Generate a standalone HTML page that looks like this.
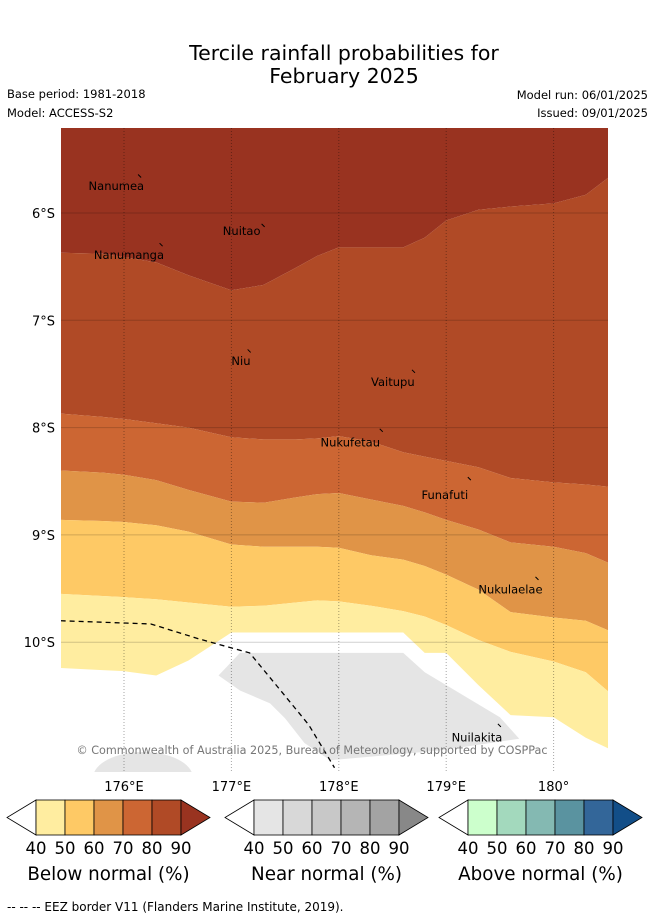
<!DOCTYPE html>
<html><head><meta charset="utf-8">
<style>
body{margin:0;background:#fff;width:655px;height:919px;overflow:hidden;font-family:"DejaVu Sans","Liberation Sans",sans-serif;}
svg text{font-family:"DejaVu Sans","Liberation Sans",sans-serif;}
</style></head>
<body>
<svg id="chart" width="655" height="919" viewBox="0 0 655 919" xmlns="http://www.w3.org/2000/svg">
<text x="344" y="60" font-size="20.5" text-anchor="middle">Tercile rainfall probabilities for</text>
<text x="344" y="83" font-size="20.5" text-anchor="middle">February 2025</text>
<text x="7" y="98" font-size="11.5">Base period: 1981-2018</text>
<text x="7" y="117" font-size="11.5">Model: ACCESS-S2</text>
<text x="648" y="99" font-size="11.5" text-anchor="end">Model run: 06/01/2025</text>
<text x="648" y="117" font-size="11.5" text-anchor="end">Issued: 09/01/2025</text>
<defs><clipPath id="mapclip"><rect x="61" y="128" width="547" height="644"/></clipPath></defs>
<g id="map" clip-path="url(#mapclip)"></g>
<g id="axes"></g>
<g id="legend"></g>
<text x="7" y="911" font-size="12">--  --  -- EEZ border V11 (Flanders Marine Institute, 2019).</text>
</svg>
<script>
const lons = [175.41,175.8,176.0,176.3,176.6,177.0,177.3,177.6,177.8,178.0,178.3,178.6,178.8,179.0,179.3,179.6,180.0,180.3,180.51];
const b90 = [6.37,6.38,6.41,6.46,6.58,6.72,6.67,6.51,6.40,6.32,6.32,6.32,6.23,6.07,5.97,5.94,5.91,5.83,5.67];
const b80 = [7.87,7.90,7.92,7.96,8.00,8.09,8.11,8.11,8.10,8.08,8.13,8.23,8.27,8.31,8.37,8.47,8.51,8.53,8.55];
const b70 = [8.40,8.42,8.44,8.49,8.58,8.69,8.70,8.65,8.62,8.61,8.67,8.73,8.79,8.86,8.95,9.07,9.11,9.17,9.26];
const b60 = [8.86,8.87,8.88,8.91,8.97,9.09,9.11,9.11,9.11,9.12,9.19,9.23,9.29,9.37,9.51,9.72,9.77,9.80,9.89];
const b50 = [9.55,9.57,9.58,9.60,9.63,9.67,9.66,9.63,9.61,9.62,9.66,9.71,9.76,9.84,9.98,10.09,10.18,10.28,10.46];
const b40 = [10.24,10.26,10.27,10.31,10.17,9.91,9.91,9.91,9.91,9.91,9.91,9.91,10.10,10.10,10.40,10.68,10.70,10.89,10.99];
const bandColors = ["#993320","#b04a26","#cc6633","#e09447","#fec965","#ffeda0"];
const grayLons = [176.88,177.08,177.36,177.5,177.68,177.92,178.93,179.68,179.5,178.8,178.6,177.08];
const grayLats = [10.31,10.45,10.57,10.71,10.94,11.10,11.01,10.90,10.70,10.28,10.10,10.10];
const eezLons = [175.41,176.25,176.7,177.17,177.45,177.72,177.96];
const eezLats = [9.80,9.83,9.97,10.10,10.44,10.77,11.17];
const islandNames = ["Nanumea","Nuitao","Nanumanga","Niu","Vaitupu","Nukufetau","Funafuti","Nukulaelae","Nuilakita"];
const islandLon = [176.15,177.3,176.35,177.17,178.7,178.4,179.22,179.85,179.5];
const islandLat = [5.66,6.12,6.30,7.29,7.48,8.03,8.48,9.41,10.78];
const labelLon = [175.67,176.92,175.72,177.0,178.30,177.83,178.77,179.3,179.05];
const labelLat = [5.75,6.17,6.39,7.38,7.575,8.14,8.63,9.51,10.89];
const latTicks = [6,7,8,9,10];
const lonTicks = [176,177,178,179,180];
const lonLabels = ["176°E","177°E","178°E","179°E","180°"];
const legendTicks = ["40","50","60","70","80","90"];

const X = lon => 124 + (lon-176)*107.4;
const Y = lat => 213 + (lat-6)*107.3;
const NS = "http://www.w3.org/2000/svg";
function mk(tag, attrs, parent){const e=document.createElementNS(NS,tag);for(const k in attrs)e.setAttribute(k,attrs[k]);parent.appendChild(e);return e;}
const map=document.getElementById('map'), axes=document.getElementById('axes'), legend=document.getElementById('legend');
mk('rect',{x:61,y:128,width:547,height:644,fill:'#fff'},map);
const bounds=[null,b90,b80,b70,b60,b50,b40];
const bandNames=['band-90','band-80','band-70','band-60','band-50','band-40'];
for(let i=0;i<6;i++){
  const top=bounds[i], bot=bounds[i+1];
  const p=[];
  for(let j=0;j<lons.length;j++)p.push(X(lons[j])+','+Y(bot[j]));
  let poly;
  if(top){
    const t=[];
    for(let j=lons.length-1;j>=0;j--)t.push(X(lons[j])+','+Y(top[j]));
    poly=p.concat(t);
  } else poly=[X(lons[0])+',120'].concat(p).concat([X(lons[lons.length-1])+',120']);
  const e=mk('polygon',{points:poly.join(' '),fill:bandColors[i]},map);
  
  
}
const gp=grayLons.map((l,i)=>X(l)+','+Y(grayLats[i])).join(' ');
const g=mk('polygon',{points:gp,fill:'#e5e5e5'},map);


const g2=mk('ellipse',{cx:143,cy:778,rx:50,ry:26,fill:'#e5e5e5'},map);


latTicks.forEach(l=>{const e=mk('line',{x1:61,x2:608,y1:Y(l),y2:Y(l),stroke:'#000','stroke-opacity':0.18,'stroke-width':1},map);

});
lonTicks.forEach(l=>{const e=mk('line',{x1:X(l),x2:X(l),y1:128,y2:772,stroke:'#000','stroke-opacity':0.35,'stroke-width':1,'stroke-dasharray':'1,2'},map);

});
const eez=mk('polyline',{points:eezLons.map((l,i)=>X(l)+','+Y(eezLats[i])).join(' '),fill:'none',stroke:'#000','stroke-width':1.3,'stroke-dasharray':'5,4'},map);


islandNames.forEach((n,i)=>{
  const m=mk('line',{x1:X(islandLon[i])-2,y1:Y(islandLat[i])-2,x2:X(islandLon[i])+1,y2:Y(islandLat[i])+1,stroke:'#000','stroke-width':1},map);
  
  
  const t=mk('text',{x:X(labelLon[i]),y:Y(labelLat[i])+4,'font-size':11.5,fill:'#000'},map);
  t.textContent=n;
  
  
});
const cp=mk('text',{x:312,y:754,'font-size':11.2,fill:'#777','text-anchor':'middle'},map);
cp.textContent='© Commonwealth of Australia 2025, Bureau of Meteorology, supported by COSPPac';


latTicks.forEach(l=>{const t=mk('text',{x:55,y:Y(l)+5,'font-size':13,'text-anchor':'end'},axes);t.textContent=l+'°S';

});
lonTicks.forEach((l,i)=>{const t=mk('text',{x:X(l),y:791,'font-size':13,'text-anchor':'middle'},axes);t.textContent=lonLabels[i];

});
const cbColors=[["#ffeda0","#fec965","#e09447","#cc6633","#b04a26","#993320"],["#e5e5e5","#d8d8d8","#c8c8c8","#b5b5b5","#a3a3a3","#888888"],["#ccffcc","#a3d9bd","#84b9b2","#5a93a0","#336699","#124e88"]];
const cbTitles=["Below normal (%)","Near normal (%)","Above normal (%)"];
const cbX=[36,254,468];
cbX.forEach((x0,k)=>{
  const grp=mk('g',{},legend);
  
  
  const w=29,y0=800,h=35;
  mk('polygon',{points:`${x0},${y0} ${x0-29},${y0+h/2} ${x0},${y0+h}`,fill:'#fff',stroke:'#000','stroke-width':0.8},grp);
  for(let i=0;i<5;i++)mk('rect',{x:x0+i*w,y:y0,width:w,height:h,fill:cbColors[k][i],stroke:'#000','stroke-width':0.8},grp);
  const xe=x0+5*w;
  mk('polygon',{points:`${xe},${y0} ${xe+29},${y0+h/2} ${xe},${y0+h}`,fill:cbColors[k][5],stroke:'#000','stroke-width':0.8},grp);
  legendTicks.forEach((t,i)=>{const e=mk('text',{x:x0+i*w,y:854,'font-size':16.5,'text-anchor':'middle'},grp);e.textContent=t;
  
  });
  const tt=mk('text',{x:x0+2.5*w,y:880,'font-size':18.3,'text-anchor':'middle'},grp);tt.textContent=cbTitles[k];
  
  
});
</script>
</body></html>
